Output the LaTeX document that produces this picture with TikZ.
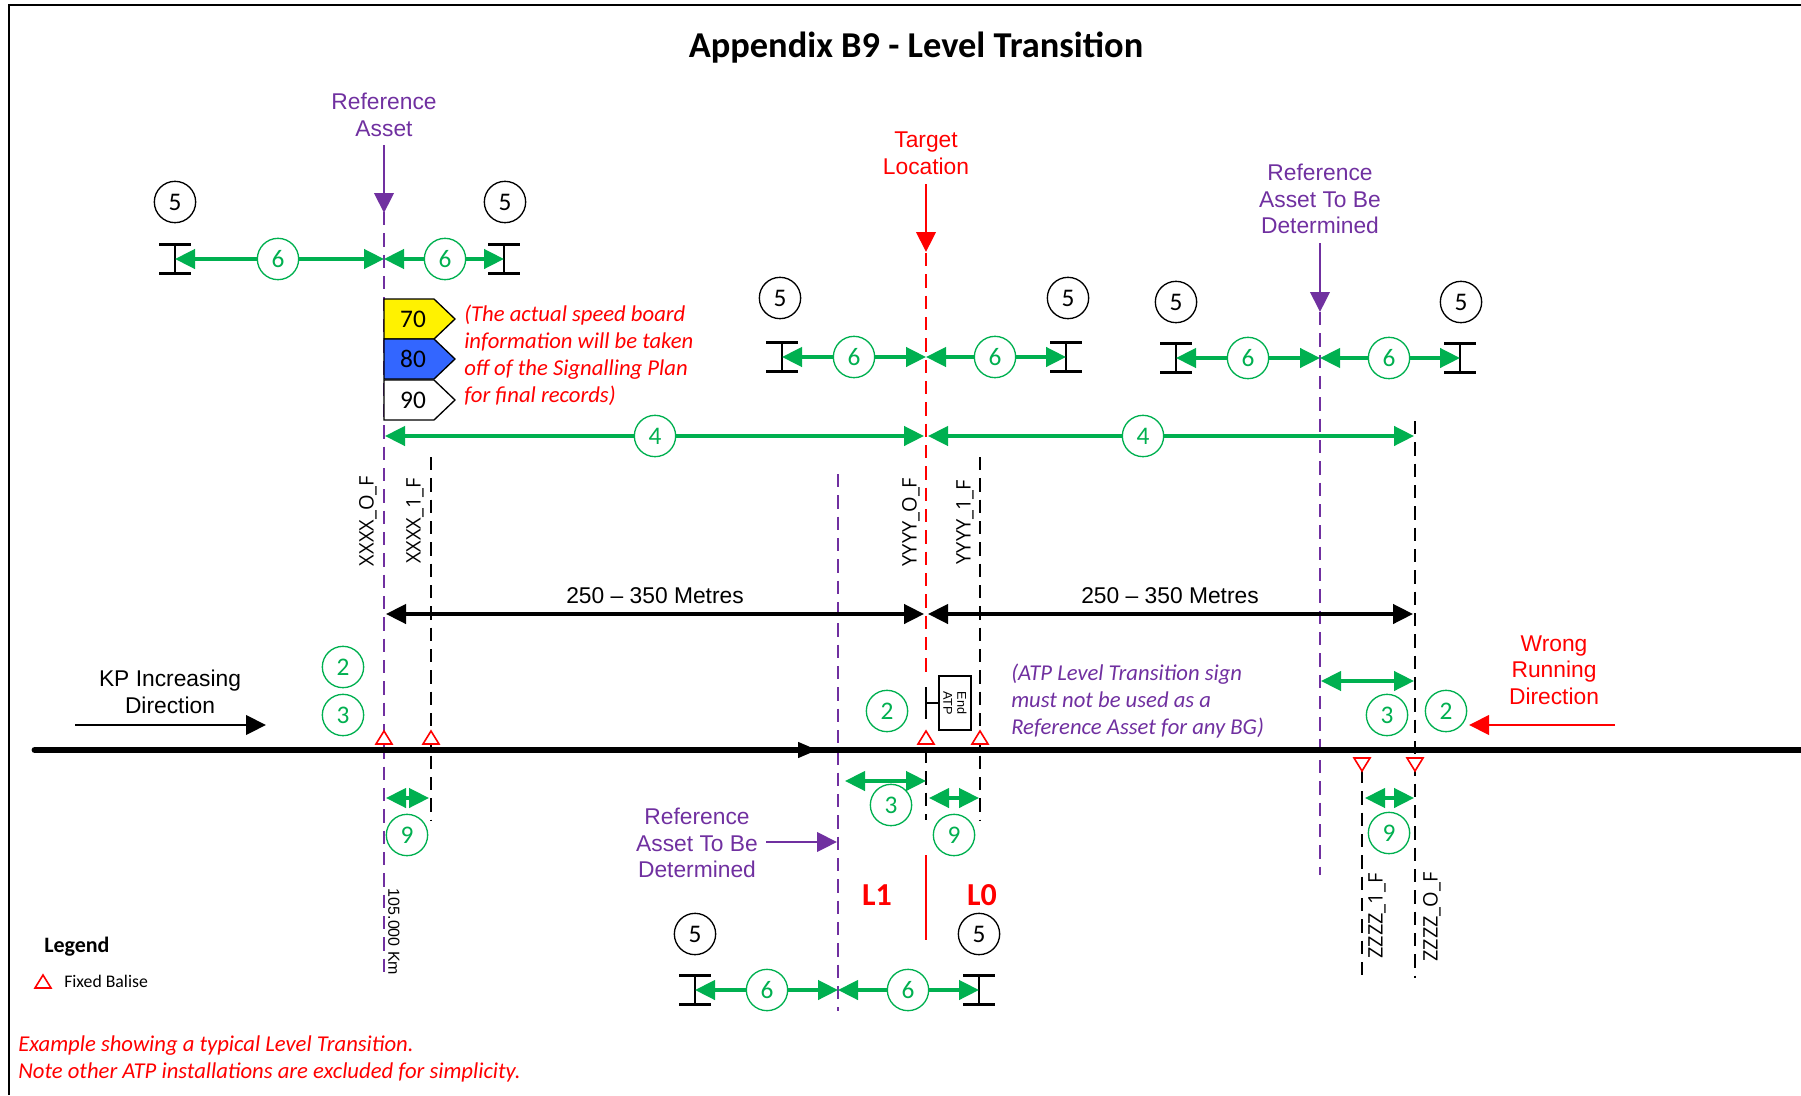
\documentclass[tikz,border=0pt]{standalone}
\usepackage{fontspec}
\setmainfont{Carlito}
\newfontfamily\arialfont{Liberation Sans}
\newfontfamily\tagfont{Open Sans}
\usetikzlibrary{arrows.meta}
\definecolor{dimgreen}{HTML}{00B050}
\definecolor{refpurple}{HTML}{7030A0}
\definecolor{boardblue}{HTML}{3366FF}
\newcommand{\ibeam}[1]{%
  \draw[beam] ([xshift=-12pt,yshift=11pt]#1) -- ([xshift=12pt,yshift=11pt]#1)
  ([xshift=-12pt,yshift=-11pt]#1) -- ([xshift=12pt,yshift=-11pt]#1)
  ([yshift=11pt]#1) -- ([yshift=-11pt]#1);}
\newcommand{\speedboard}[4]{%
  \draw[fill=#3,line width=1pt] (384,#2) -- (434,#2) -- (455,#2+20) -- (434,#2+40)
  -- (384,#2+40) -- cycle;
  \node[boardtext] (#1) at (413,#2+20) {#4};}

\begin{document}
\begin{tikzpicture}[x=.75pt,y=-.75pt
  ,>={Triangle[length=15pt,width=14.5pt]}
  ,line cap=butt]
  \tikzstyle{lbl}=[inner sep=0,align=center,font=\arialfont\fontsize{17.1}{20}\selectfont]
  \tikzstyle{note}=[inner sep=0,align=left,anchor=west,font=\itshape\fontsize{17}{20.2}\selectfont]
  \tikzstyle{tag}=[inner sep=0,rotate=90,font=\tagfont\fontsize{15}{16}\selectfont]
  \tikzstyle{dimc}=[circle,draw=dimgreen,fill=white,text=dimgreen,line width=1pt,inner sep=0
    ,minimum size=31pt,font=\fontsize{19}{19}\selectfont]
  \tikzstyle{refc}=[dimc,draw=black,text=black]
  \tikzstyle{boardtext}=[inner sep=0,font=\fontsize{19}{19}\selectfont]
  \tikzstyle{beam}=[line width=2pt,-]
  \tikzstyle{dim}=[<->,dimgreen,line width=2.5pt]
  \tikzstyle{span}=[<->,black,line width=2.5pt]
  \tikzstyle{purpledash}=[refpurple,line width=1pt,dash pattern=on 10pt off 6pt]
  \tikzstyle{blackdash}=[black,line width=1pt,dash pattern=on 10pt off 6pt]
  \tikzstyle{reddash}=[red,line width=1pt,dash pattern=on 10pt off 6pt]
  \tikzstyle{balise}=[draw=red,fill=white,line width=1.2pt,line join=miter]

  \useasboundingbox (0,0) rectangle (1801,1095);
  \coordinate (fa) at (9,1095);
  \coordinate (fb) at (9,5);
  \coordinate (fc) at (1801,5);
  \draw[line width=1pt] (fa) -- (fb) -- (fc);

  % datum lines
  \foreach \name/\x/\ya/\yb in {la/384/212/978,lc/838/474/1011,lrt/926/253/673
    ,le/1320/312/875,lb/431/457/820,ld/926/750/820,lf/980/457/820
    ,lg/1362/770/977,lh/1415/421/978} {
    \coordinate (\name t) at (\x,\ya);
    \coordinate (\name b) at (\x,\yb);
  }
  \draw[purpledash] (lat) -- (lab);
  \draw[purpledash] (lct) -- (lcb);
  \draw[purpledash] (let) -- (leb);
  \draw[reddash] (lrtt) -- (lrtb);
  \draw[blackdash] (lbt) -- (lbb);
  \draw[blackdash] (ldt) -- (ldb);
  \draw[blackdash] (lft) -- (lfb);
  \draw[blackdash] (lgt) -- (lgb);
  \draw[blackdash] (lht) -- (lhb);

  % track
  \coordinate (ta) at (35,750);
  \coordinate (tb) at (1801,750);
  \coordinate (tm) at (818,750);
  \draw[line width=5.2pt,line cap=round] (ta) -- (tb);
  \draw[-{Triangle[length=15pt,width=11pt]},line width=5.2pt] (ta) -- (tm);

  % balises
  \foreach \x in {384,431,926,980}
    \draw[balise] (\x,731) -- (\x+8,744) -- (\x-8,744) -- cycle;
  \foreach \x in {1362,1415}
    \draw[balise] (\x,771) -- (\x+8,758) -- (\x-8,758) -- cycle;

  % speed boards
  \speedboard{sa}{299}{yellow}{70}
  \speedboard{sb}{339}{boardblue}{80}
  \speedboard{sc}{380}{white}{90}

  % sign
  \coordinate (ia) at (926,703);
  \node[draw,line width=1.5pt,inner sep=0,rotate=-90
    ,minimum width=41pt,minimum height=24pt,align=center
    ,font=\arialfont\fontsize{9.5}{10.5}\selectfont] (atp) at (955,703) {End\\ATP};
  \draw[line width=1.5pt] ([yshift=12pt]ia) -- ([yshift=-12pt]ia);
  \draw[line width=1.5pt] (ia) -- (atp);

  % beams
  \foreach \name/\x/\y in {ba/175/259,bb/504/259,bc/782/357,bd/1066/357
    ,be/1176/358,bf/1460/358,bg/695/990,bh/979/990} {
    \coordinate (\name) at (\x,\y);
    \ibeam{\name}
  }
  \foreach \name/\x/\y in {pa/384/259,pb/926/357,pc/1320/358,pd/838/990} {
    \coordinate (\name) at (\x,\y);
  }

  % dimension end points
  \foreach \name/\x/\y in {da/385/436,db/924/436,dc/928/436,dd/1414/436
    ,sa/386/614,sb/924/614,sc/928/614,sd/1413/614
    ,ea/386/798,eb/429/798,ec/845/781,ed/926/781,ee/929/798,ef/979/798
    ,eg/1365/798,eh/1414/798,ei/1321/681,ej/1414/681} {
    \coordinate (\name) at (\x,\y);
  }
  \path[dim]
  (ba) edge (pa)
  (pa) edge (bb)
  (bc) edge (pb)
  (pb) edge (bd)
  (be) edge (pc)
  (pc) edge (bf)
  (bg) edge (pd)
  (pd) edge (bh)
  (da) edge (db)
  (dc) edge (dd)
  (ea) edge (eb)
  (ec) edge (ed)
  (ee) edge (ef)
  (eg) edge (eh)
  (ei) edge (ej)
  ;
  \path[span]
  (sa) edge (sb)
  (sc) edge (sd)
  ;

  % numbered circles
  \foreach \name/\x/\y/\t in {c1/278/259/6,c2/445/259/6,c3/854/357/6,c4/995/357/6
    ,c5/1248/358/6,c6/1389/358/6,c7/767/990/6,c8/908/990/6
    ,c9/655/436/4,c10/1143/436/4,c11/343/667/2,c12/343/715/3
    ,c13/887/711/2,c14/1387/715/3,c15/1446/711/2,c16/891/805/3
    ,c17/407/835/9,c18/954/835/9,c19/1389/833/9} {
    \node[dimc] (\name) at (\x,\y) {\t};
  }
  \foreach \name/\x/\y in {n1/175/202,n2/505/202,n3/780/298,n4/1068/298
    ,n5/1176/302,n6/1461/302,n7/695/934,n8/979/934} {
    \node[refc] (\name) at (\x,\y) {5};
  }

  % pointers
  \node[lbl,text=refpurple] (refa) at (384,115) {Reference\\Asset};
  \node[lbl,text=red] (targ) at (926,153) {Target\\Location};
  \node[lbl,text=refpurple] (refb) at (1320,199) {Reference\\Asset To Be\\Determined};
  \node[lbl,text=refpurple] (refc) at (697,843) {Reference\\Asset To Be\\Determined};
  \node[lbl] (kp) at (170,692) {KP Increasing\\Direction};
  \node[lbl,text=red] (wrong) at (1554,670) {Wrong\\Running\\Direction};
  \foreach \name/\x/\y in {qa/384/145,qb/384/213,qc/926/184,qd/926/252
    ,qe/1320/243,qf/1320/312,qg/766/842,qh/837/842
    ,qi/75/725,qj/266/725,qk/1615/725,ql/1469/725} {
    \coordinate (\name) at (\x,\y);
  }
  \path[->,line width=2.2pt]
  (qa) edge[refpurple] (qb)
  (qc) edge[red] (qd)
  (qe) edge[refpurple] (qf)
  (qg) edge[refpurple] (qh)
  (qi) edge (qj)
  (qk) edge[red] (ql)
  ;

  % level change
  \coordinate (va) at (926,855);
  \coordinate (vb) at (926,940);
  \draw[red,line width=2.2pt] (va) -- (vb);
  \node[inner sep=0,text=red,font=\bfseries\fontsize{24}{24}\selectfont] (lone) at (877,895) {L1};
  \node[inner sep=0,text=red,font=\bfseries\fontsize{24}{24}\selectfont] (lzero) at (982,895) {L0};

  % texts
  \node[inner sep=0,font=\bfseries\fontsize{27.3}{27.3}\selectfont] (title) at (916,48) {Appendix B9 - Level Transition};
  \node[note,text=red] (boardnote) at (464,355.5) {(The actual speed board\\information will be taken\\off of the Signalling Plan\\for final records)};
  \node[note,text=refpurple] (signnote) at (1011,701) {(ATP Level Transition sign\\must not be used as a\\Reference Asset for any BG)};
  \node[note,text=red] (footer) at (18,1058.5) {Example showing a typical Level Transition.\\Note other ATP installations are excluded for simplicity.};
  \node[lbl] (ma) at (655,596) {250 – 350 Metres};
  \node[lbl] (mb) at (1170,596) {250 – 350 Metres};
  \node[tag] (xo) at (368,521) {XXXX\_O\_F};
  \node[tag] (xa) at (415,521) {XXXX\_1\_F};
  \node[tag] (yo) at (911,522) {YYYY\_O\_F};
  \node[tag] (ya) at (965,522) {YYYY\_1\_F};
  \node[tag] (za) at (1377,916) {ZZZZ\_1\_F};
  \node[tag] (zo) at (1432,917) {ZZZZ\_O\_F};
  \node[tag,rotate=180,font=\arialfont\fontsize{12}{14}\selectfont] (km) at (394,932) {105.000 Km};

  % legend
  \node[inner sep=0,anchor=west,font=\bfseries\fontsize{16.5}{16.5}\selectfont] (leg) at (44,947) {Legend};
  \draw[balise] (43,975) -- (51,988) -- (35,988) -- cycle;
  \node[inner sep=0,anchor=west,font=\fontsize{13.3}{13.3}\selectfont] (legb) at (64,981) {Fixed Balise};
\end{tikzpicture}
\end{document}
